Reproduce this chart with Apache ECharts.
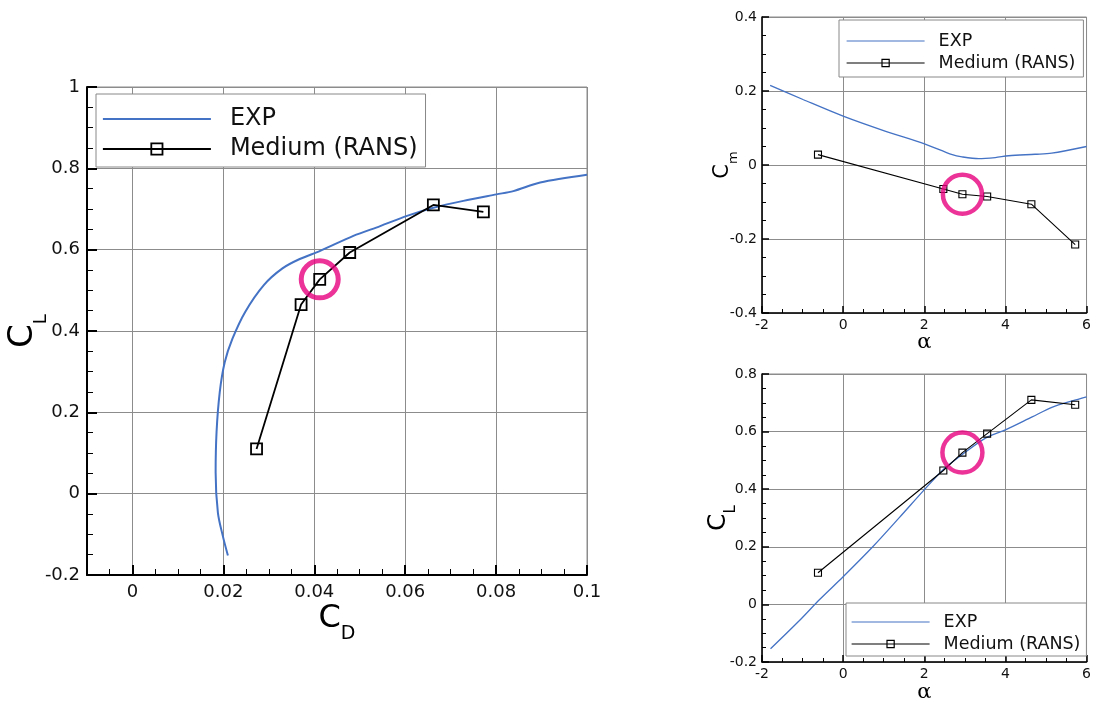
<!DOCTYPE html>
<html>
<head>
<meta charset="utf-8">
<title>CL / CD / Cm comparison</title>
<script src="https://cdn.jsdelivr.net/npm/echarts@6/dist/echarts.min.js"></script>
<style>
  html, body { margin: 0; padding: 0; background: #fff; }
  #chart { width: 1094px; height: 704px; }
</style>
</head>
<body>
<div id="chart"></div>
<script>
// EXP drag polar (CD, CL)
const expPolarCd = [0.0210, 0.0199, 0.0188, 0.0183, 0.0185, 0.0192, 0.0203, 0.0220, 0.0248, 0.0289, 0.0330,
  0.0368, 0.0413, 0.0486, 0.0545, 0.0604, 0.0662, 0.0728, 0.0801, 0.0838, 0.0897, 0.1000];
const expPolarCl = [-0.152, -0.105, -0.047, 0.052, 0.151, 0.249, 0.323, 0.381, 0.447, 0.513, 0.554,
  0.577, 0.597, 0.634, 0.658, 0.683, 0.703, 0.720, 0.736, 0.744, 0.765, 0.784];

// EXP Cm vs alpha
const expCmAlpha = [-1.80, -0.99, 0.0, 1.05, 1.99, 2.69, 2.93, 3.34, 3.75, 4.08, 4.73, 5.14, 6.0];
const expCm = [0.215, 0.177, 0.132, 0.091, 0.058, 0.028, 0.022, 0.017, 0.020, 0.025, 0.029, 0.032, 0.050];

// EXP CL vs alpha
const expClAlpha = [-1.79, -1.07, -0.58, 0.0, 0.73, 1.39, 2.02, 2.49, 2.94, 3.52, 4.0, 4.66, 5.16, 5.65, 6.0];
const expCl = [-0.154, -0.055, 0.017, 0.096, 0.200, 0.302, 0.401, 0.471, 0.521, 0.578, 0.606, 0.651, 0.685, 0.707, 0.721];

// Medium (RANS)
const ransAlpha = [-0.62, 2.47, 2.94, 3.55, 4.64, 5.72];
const ransCd = [0.0273, 0.0371, 0.0412, 0.0478, 0.0662, 0.0772];
const ransCl = [0.110, 0.465, 0.527, 0.593, 0.710, 0.693];
const ransCm = [0.028, -0.065, -0.079, -0.085, -0.106, -0.215];

// the circled case
const highlightIndex = 2;

const FONT = "DejaVu Sans";
const BLUE = "#4472c4";
const PINK = "#e6007e";
const GRID_GRAY = "#8c8c8c";

// EXP has no marker, so hide the legend symbol and keep only its line
const legendNames = [
  { name: "EXP", itemStyle: { color: "rgba(0,0,0,0)", borderWidth: 0, opacity: 0 } },
  { name: "Medium (RANS)" },
];

const chart = echarts.init(document.getElementById("chart"));

function zip(xs, ys) {
  return xs.map((x, i) => [x, ys[i]]);
}

// common look of a value axis; s holds sizes for the big or the small charts
function valueAxis(gridIndex, min, max, interval, s) {
  return {
    type: "value",
    gridIndex: gridIndex,
    min: min,
    max: max,
    interval: interval,
    nameMoveOverlap: false,
    axisLine: { show: true, onZero: false, lineStyle: { color: "#000", width: s.line } },
    axisTick: { show: true, inside: true, length: s.tick, lineStyle: { color: "#000", width: s.line } },
    minorTick: { show: true, splitNumber: 4, length: s.minor, lineStyle: { color: "#000", width: 1 } },
    splitLine: { show: true, lineStyle: { color: GRID_GRAY, width: 1 } },
    axisLabel: { color: "#111", fontFamily: FONT, fontSize: s.font, margin: s.margin },
  };
}

function subName(main, sub, mainSize, subSize, drop) {
  return {
    name: "{c|" + main + "}{s|" + sub + "}",
    nameLocation: "middle",
    nameTextStyle: {
      color: "#000",
      fontFamily: FONT,
      rich: {
        c: { fontSize: mainSize, fontFamily: FONT, color: "#000", padding: [0, 0, drop, 0] },
        s: { fontSize: subSize, fontFamily: FONT, color: "#000", verticalAlign: "bottom" },
      },
    },
  };
}

const big = { font: 18, tick: 10, minor: 6, line: 2, margin: 8 };
const small = { font: 14, tick: 7, minor: 4, line: 1.5, margin: 5 };

// ---- axes ----
const xCd = valueAxis(0, -0.01, 0.1, undefined, big);
xCd.minorTick = { show: false };
xCd.axisLabel.formatter = (v) => {
  const k = v / 0.02;
  return Math.abs(k - Math.round(k)) < 1e-6 ? String(+v.toFixed(2)) : "";
};
Object.assign(xCd, subName("C", "D", 32, 19, 9), { nameGap: 28 });

// minor ticks of the CD axis, every 0.005
const xCdMinor = {
  type: "value",
  gridIndex: 0,
  position: "bottom",
  min: -0.01,
  max: 0.1,
  interval: 0.005,
  axisLine: { show: false, onZero: false },
  axisTick: { show: true, inside: true, length: 6, lineStyle: { color: "#000", width: 1 } },
  axisLabel: { show: false },
  splitLine: { show: false },
};

const yCl = valueAxis(0, -0.2, 1, 0.2, big);
yCl.axisLabel.margin = 7;
Object.assign(yCl, subName("C", "L", 34, 18, 10), { nameRotate: 90, nameGap: 37 });

const xAlphaTop = valueAxis(1, -2, 6, 2, small);
Object.assign(xAlphaTop, {
  name: "α",
  nameLocation: "middle",
  nameGap: 19,
  nameTextStyle: { color: "#000", fontFamily: "DejaVu Serif", fontSize: 21 },
});
const yCm = valueAxis(1, -0.4, 0.4, 0.2, small);
Object.assign(yCm, subName("C", "m", 21, 13, 7), { nameRotate: 90, nameGap: 22 });

const xAlphaBottom = valueAxis(2, -2, 6, 2, small);
Object.assign(xAlphaBottom, {
  name: "α",
  nameLocation: "middle",
  nameGap: 20,
  nameTextStyle: { color: "#000", fontFamily: "DejaVu Serif", fontSize: 21 },
});
const yClRight = valueAxis(2, -0.2, 0.8, 0.2, small);
Object.assign(yClRight, subName("C", "L", 25, 15, 8), { nameRotate: 90, nameGap: 23 });

// ---- series helpers (x and y axis share the same index per grid) ----
function expLine(name, axisIndex, data, width) {
  return {
    name: name,
    type: "line",
    xAxisIndex: axisIndex,
    yAxisIndex: axisIndex,
    data: data,
    smooth: 0.3,
    symbol: "none",
    showSymbol: false,
    lineStyle: { color: BLUE, width: width },
    itemStyle: { color: BLUE },
    z: 3,
  };
}

function ransLine(name, axisIndex, data, size, width) {
  return {
    name: name,
    type: "line",
    xAxisIndex: axisIndex,
    yAxisIndex: axisIndex,
    data: data,
    symbol: "rect",
    symbolSize: size,
    lineStyle: { color: "#000", width: width },
    itemStyle: { color: "rgba(255,255,255,0)", borderColor: "#000", borderWidth: width },
    z: 4,
  };
}

function circle(axisIndex, point, size, width) {
  return {
    name: "highlight",
    type: "scatter",
    xAxisIndex: axisIndex,
    yAxisIndex: axisIndex,
    data: [point],
    symbol: "circle",
    symbolSize: size,
    itemStyle: { color: "rgba(255,255,255,0)", borderColor: PINK, borderWidth: width },
    z: 6,
  };
}

function legendBox(left, top, padding, fontSize, itemWidth, itemHeight, itemGap, textPad, lineWidth) {
  return {
    data: legendNames,
    orient: "vertical",
    left: left,
    top: top,
    padding: padding,
    itemWidth: itemWidth,
    itemHeight: itemHeight,
    itemGap: itemGap,
    backgroundColor: "#fff",
    borderColor: "#888",
    borderWidth: 1,
    borderRadius: 0,
    lineStyle: { width: lineWidth },
    itemStyle: { borderWidth: lineWidth },
    textStyle: { fontFamily: FONT, fontSize: fontSize, color: "#111", padding: [0, 0, 0, textPad] },
  };
}

const option = {
  animation: false,
  backgroundColor: "#fff",
  grid: [
    { left: 87, top: 87, width: 500, height: 488, show: true, borderColor: GRID_GRAY, borderWidth: 1 },
    { left: 762, top: 17, width: 326, height: 296, show: true, borderColor: GRID_GRAY, borderWidth: 1 },
    { left: 762, top: 374, width: 326, height: 296, show: true, borderColor: GRID_GRAY, borderWidth: 1 },
  ],
  // index 0..2 -> grids 0..2, index 3 = minor ticks for CD
  xAxis: [xCd, xAlphaTop, xAlphaBottom, xCdMinor],
  yAxis: [yCl, yCm, yClRight],
  legend: [
    legendBox(96, 94, [13, 8, 6, 6], 24, 108, 14, 6, 14, 1.8),
    legendBox(839, 20, [12, 8, 5, 7], 17.5, 78, 9, 4, 9, 1.2),
    legendBox(846, 603, [10, 6, 3, 5], 17.5, 78, 9, 4, 9, 1.2),
  ],
  series: [
    expLine("EXP", 0, zip(expPolarCd, expPolarCl), 2),
    ransLine("Medium (RANS)", 0, zip(ransCd, ransCl), 11, 1.8),
    circle(0, [ransCd[highlightIndex], ransCl[highlightIndex]], 37, 5),

    expLine("EXP", 1, zip(expCmAlpha, expCm), 1.3),
    ransLine("Medium (RANS)", 1, zip(ransAlpha, ransCm), 7, 1.1),
    circle(1, [ransAlpha[highlightIndex], ransCm[highlightIndex]], 39, 4.5),

    expLine("EXP", 2, zip(expClAlpha, expCl), 1.3),
    ransLine("Medium (RANS)", 2, zip(ransAlpha, ransCl), 7, 1.1),
    circle(2, [ransAlpha[highlightIndex], ransCl[highlightIndex]], 40, 4.5),
  ],
};

chart.setOption(option);
</script>
</body>
</html>
